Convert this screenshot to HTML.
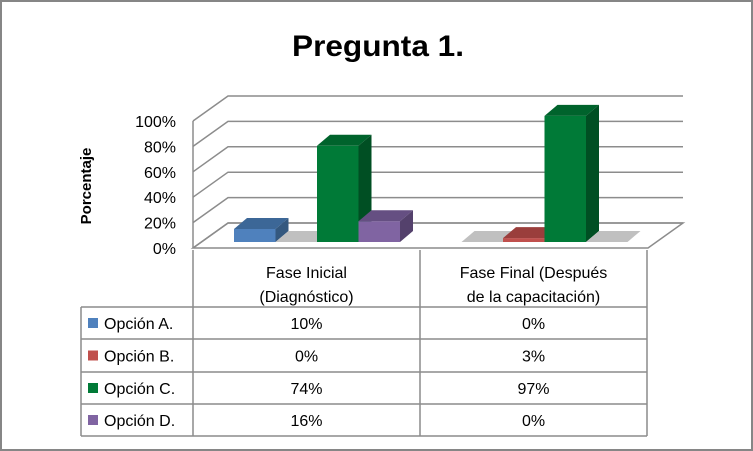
<!DOCTYPE html>
<html><head><meta charset="utf-8"><style>
body{margin:0;background:#fff;}
svg{display:block;font-family:"Liberation Sans",sans-serif;}
</style></head><body>
<svg width="753" height="451" viewBox="0 0 753 451">
<rect x="1" y="1" width="751" height="449" fill="#fff" stroke="#868686" stroke-width="2"/>
<text x="378" y="56" font-size="30" font-weight="bold" text-anchor="middle" textLength="172" lengthAdjust="spacingAndGlyphs">Pregunta 1.</text>
<text transform="translate(91,186) rotate(-90)" font-size="15" font-weight="bold" text-anchor="middle">Porcentaje</text>
<g id="walls"></g>
<g id="ticks"></g>
<g id="bars"></g>
<g id="table"></g>
</svg>
<script>
const categories=["Fase Inicial|(Diagnóstico)","Fase Final (Después|de la capacitación)"];
const seriesNames=["Opción A.","Opción B.","Opción C.","Opción D."];
const seriesA=[10,0];
const seriesB=[0,3];
const seriesC=[74,97];
const seriesD=[16,0];
const tickLabels=["0%","20%","40%","60%","80%","100%"];
const tickValues=[0,20,40,60,80,100];
const NS="http://www.w3.org/2000/svg";
function mk(tag,attrs,parent){const e=document.createElementNS(NS,tag);for(const k in attrs)e.setAttribute(k,attrs[k]);parent.appendChild(e);return e;}
const series=[seriesA,seriesB,seriesC,seriesD];
const colors=[["#4f81bd","#3c6797","#34587f"],["#c0504d","#9a3e3c","#823331"],["#007a37","#00632c","#004f23"],["#8064a2","#654f82","#54416c"]];
// axes
const X0=193,X1=648,FY0=248,FY100=121,DX=35,DY=-25;
function fy(v){return FY0-(FY0-FY100)*v/100;}
const catW=(X1-X0)/categories.length;
const BY0=242,BH=130,BW=41.5,BDX=13,BDY=-11;
function by(v){return BY0-BH*v/100;}
const walls=document.getElementById('walls');
// floor
const fl=mk('polygon',{points:`${X0},${FY0} ${X1},${FY0} ${X1+DX},${FY0+DY} ${X0+DX},${FY0+DY}`,fill:'#fff',stroke:'#8c8c8c','stroke-width':1.5},walls);

const ticks=document.getElementById('ticks');
tickValues.forEach((v,i)=>{
  const y=fy(v);
  const g=mk('polyline',{points:`${X0},${y} ${X0+DX},${y+DY} ${X1+DX},${y+DY}`,fill:'none',stroke:'#8c8c8c','stroke-width':1.5},walls);
  
  const t=mk('text',{x:176,y:y+6,'font-size':16,'text-anchor':'end'},ticks);
  t.textContent=tickLabels[i];
  
});
const lw=mk('line',{x1:X0,y1:FY0,x2:X0,y2:fy(100),stroke:'#8c8c8c','stroke-width':1.5},walls);

// bars
const bars=document.getElementById('bars');
categories.forEach((c,ci)=>{
  series.forEach((s,si)=>{
    const v=s[ci];const x=X0+catW*ci+41+si*BW;const top=by(v);
    const g=mk('g',{},bars);
    
    if(v<=0){
      mk('polygon',{points:`${x},${BY0} ${x+BW},${BY0} ${x+BW+BDX},${BY0+BDY} ${x+BDX},${BY0+BDY}`,fill:'#c0c0c0'},g);
      return;
    }
    const col=colors[si];
    mk('rect',{x:x,y:top,width:BW,height:BY0-top,fill:col[0]},g);
    mk('polygon',{points:`${x},${top} ${x+BW},${top} ${x+BW+BDX},${top+BDY} ${x+BDX},${top+BDY}`,fill:col[1]},g);
    mk('polygon',{points:`${x+BW},${top} ${x+BW+BDX},${top+BDY} ${x+BW+BDX},${BY0+BDY} ${x+BW},${BY0}`,fill:col[2]},g);
  });
});
// table
const tb=document.getElementById('table');
const rowY=[250,307,339,372,404,436];
const colX=[81,193,420,647];
const st={stroke:'#8c8c8c','stroke-width':1.5};
mk('line',Object.assign({x1:193,y1:250,x2:193,y2:436},st),tb);
mk('line',Object.assign({x1:420,y1:250,x2:420,y2:436},st),tb);
mk('line',Object.assign({x1:647,y1:250,x2:647,y2:436},st),tb);
mk('line',Object.assign({x1:81,y1:307,x2:81,y2:436},st),tb);
for(let i=1;i<rowY.length;i++) mk('line',Object.assign({x1:81,y1:rowY[i],x2:647,y2:rowY[i]},st),tb);
categories.forEach((c,ci)=>{
  const cx=(colX[ci+1]+colX[ci+2])/2;
  c.split('|').forEach((ln,li)=>{
    const t=mk('text',{x:cx,y:278+li*24,'font-size':16,'text-anchor':'middle'},tb);
    t.textContent=ln;
    
  });
});
series.forEach((s,si)=>{
  const y0=rowY[si+1],y1=rowY[si+2],cy=(y0+y1)/2+6;
  const sw=mk('rect',{x:88,y:(y0+y1)/2-5,width:10,height:10,fill:colors[si][0]},tb);
  
  const t=mk('text',{x:104,y:cy,'font-size':16},tb);
  t.textContent=seriesNames[si];
  
  s.forEach((v,ci)=>{
    const tt=mk('text',{x:(colX[ci+1]+colX[ci+2])/2,y:cy,'font-size':16,'text-anchor':'middle'},tb);
    tt.textContent=v+'%';
    
  });
});
</script>
</body></html>
